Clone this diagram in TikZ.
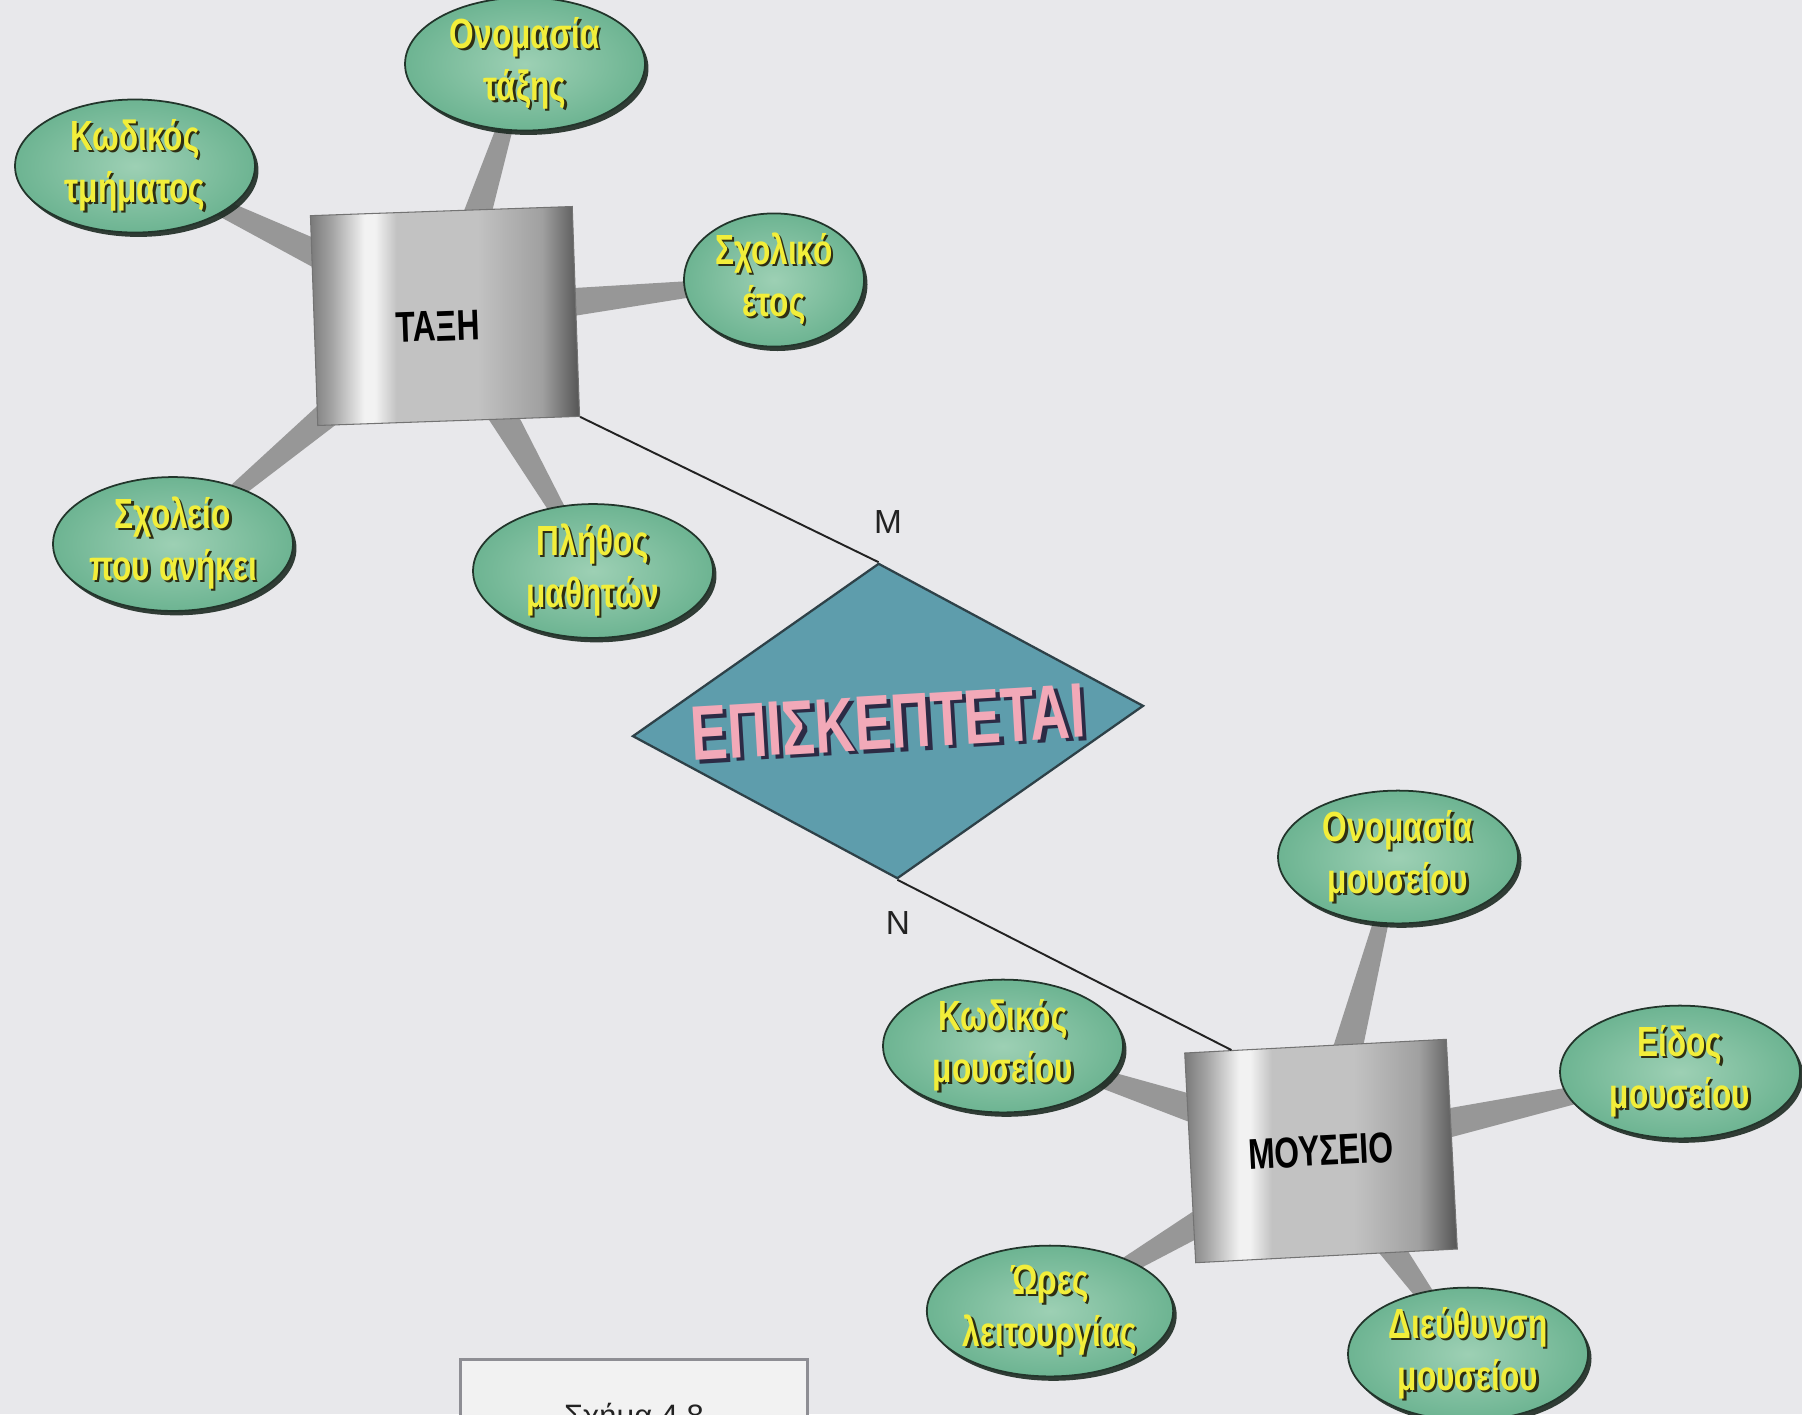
\documentclass[tikz,border=0pt]{standalone}
\usepackage{fontspec}
\setmainfont{Liberation Sans}
\newfontfamily\attrfont[FakeStretch=0.75]{Liberation Sans}
\newfontfamily\boxfont[FakeStretch=0.74]{Liberation Sans}
\newfontfamily\relfont[FakeStretch=0.71]{Liberation Sans}
\usetikzlibrary{shapes.geometric,shadows,calc,backgrounds}

\definecolor{paper}{HTML}{E8E8EB}
\definecolor{ellfill}{HTML}{6DB492}
\definecolor{ellhi}{HTML}{9DD0B4}
\definecolor{ellline}{HTML}{22352B}
\definecolor{ellshadow}{HTML}{1C2A22}
\definecolor{ytext}{HTML}{F2EE3A}
\definecolor{ytshadow}{HTML}{2E2E14}
\definecolor{linkgray}{HTML}{979797}
\definecolor{diafill}{HTML}{5E9DAC}
\definecolor{dialine}{HTML}{2E4148}
\definecolor{ptext}{HTML}{F2A9B8}
\definecolor{ptshadow}{HTML}{2C2B45}
\definecolor{bxA}{HTML}{7A7A7A}
\definecolor{bxB}{HTML}{A4A4A4}
\definecolor{bxC}{HTML}{F2F2F2}
\definecolor{bxD}{HTML}{C2C2C2}
\definecolor{bxE}{HTML}{A0A0A0}
\definecolor{bxF}{HTML}{555555}
\definecolor{capline}{HTML}{8E8E94}
\definecolor{capfill}{HTML}{F2F2F2}
\definecolor{inkc}{HTML}{222222}

\pgfdeclarehorizontalshading{boxshade}{100bp}{color(0bp)=(bxA); color(25bp)=(bxA);
  color(29bp)=(bxB); color(35bp)=(bxC); color(37bp)=(bxC); color(41bp)=(bxD);
  color(56bp)=(bxD); color(68bp)=(bxE); color(75bp)=(bxF); color(100bp)=(bxF)}

\newcommand\attrtxt[1]{\leavevmode\rlap{\hspace{1.3pt}\raisebox{-1.3pt}{\color{ytshadow}#1}}{\color{ytext}#1}}
\newcommand\reltxt[1]{\leavevmode\rlap{\hspace{2.2pt}\raisebox{-2.2pt}{\color{ptshadow}#1}}{\color{ptext}#1}}
\newcommand\attrlink[2]{\fill[linkgray]
  ($(#1.center)!2.3pt!90:(#2.center)$) --
  ($(#2.center)!11.5pt!-90:(#1.center)$) --
  ($(#2.center)!11.5pt!90:(#1.center)$) --
  ($(#1.center)!2.3pt!-90:(#2.center)$) -- cycle;}

\begin{document}
\begin{tikzpicture}[x=0.02cm, y=-0.02cm,
  attr/.style={ellipse, draw=ellline, line width=1pt, inner color=ellhi, outer color=ellfill,
    minimum width=4.8cm, minimum height=2.3cm, inner sep=0pt, align=center,
    font=\attrfont\bfseries\fontsize{24}{29.6}\selectfont,
    drop shadow={shadow xshift=2pt, shadow yshift=-2.5pt, fill=ellshadow, opacity=0.9}},
  entity/.style={rectangle, shading=boxshade, draw=black!55, line width=0.6pt,
    minimum width=5.24cm, minimum height=4.2cm, inner sep=0pt,
    font=\boxfont\bfseries\fontsize{24.5}{28}\selectfont, text=black},
  relation/.style={diamond, minimum width=10.24cm, minimum height=6.32cm, inner sep=0pt,
    fill=diafill, draw=dialine, line width=1.3pt,
    font=\relfont\bfseries\fontsize{44}{48}\selectfont},
  relline/.style={draw=inkc, line width=1.1pt},
  card/.style={font=\fontsize{19}{22}\selectfont, text=inkc, inner sep=0pt},
  capbox/.style={rectangle, draw=capline, line width=1.7pt, fill=capfill,
    minimum width=6.96cm, inner xsep=0pt, inner ysep=0.9cm, text height=0.44cm, text depth=0pt,
    font=\fontsize{17.6}{20}\selectfont, text=inkc}]
\useasboundingbox (0,0) rectangle (1802,1414);

% entities
\node[entity, rotate=2] (taxi) at (445,316) {\hspace*{-0.3cm}\raisebox{-0.2cm}[\height][\depth]{ΤΑΞΗ}};
\node[entity, rotate=3] (mouseio) at (1321,1151) {ΜΟΥΣΕΙΟ};

% attributes of ΤΑΞΗ
\node[attr] (kt) at (135,166) {\attrtxt{Κωδικός}\\\attrtxt{τμήματος}};
\node[attr] (ot) at (525,64) {\attrtxt{Ονομασία}\\\attrtxt{τάξης}};
\node[attr, minimum width=3.6cm, minimum height=2.44cm] (se) at (774,280) {\attrtxt{Σχολικό}\\\attrtxt{έτος}};
\node[attr] (sp) at (173,544) {\attrtxt{Σχολείο}\\\attrtxt{που ανήκει}};
\node[attr, minimum height=2.44cm] (pm) at (593,571) {\attrtxt{Πλήθος}\\\attrtxt{μαθητών}};

% attributes of ΜΟΥΣΕΙΟ
\node[attr] (om) at (1398,857) {\attrtxt{Ονομασία}\\\attrtxt{μουσείου}};
\node[attr] (km) at (1003,1046) {\attrtxt{Κωδικός}\\\attrtxt{μουσείου}};
\node[attr] (em) at (1680,1072) {\attrtxt{Είδος}\\\attrtxt{μουσείου}};
\node[attr] (ol) at (1050,1311) {\attrtxt{Ώρες}\\\attrtxt{λειτουργίας}};
\node[attr] (dm) at (1468,1354) {\attrtxt{Διεύθυνση}\\\attrtxt{μουσείου}};

% relationship
\node[relation, rotate=3.4] (rel) at (888,721)
  {\makebox[0pt]{\raisebox{-0.36em}[0pt][0pt]{\reltxt{ΕΠΙΣΚΕΠΤΕΤΑΙ}}}};

\draw[relline] (taxi.south east) -- (rel.north);
\draw[relline] (rel.south) -- ($(mouseio.north west)!0.18!(mouseio.north east)$);

\node[card] (cardM) at (888,522) {M};
\node[card] (cardN) at (898,923) {N};

% caption
\node[capbox, anchor=north] (cap) at (634,1358) {Σχήμα 4.8};

\begin{scope}[on background layer]
  \fill[paper] (0,0) rectangle (1802,1414);
  \attrlink{kt}{taxi}
  \attrlink{ot}{taxi}
  \attrlink{se}{taxi}
  \attrlink{sp}{taxi}
  \attrlink{pm}{taxi}
  \attrlink{om}{mouseio}
  \attrlink{km}{mouseio}
  \attrlink{em}{mouseio}
  \attrlink{ol}{mouseio}
  \attrlink{dm}{mouseio}
\end{scope}
\end{tikzpicture}
\end{document}
